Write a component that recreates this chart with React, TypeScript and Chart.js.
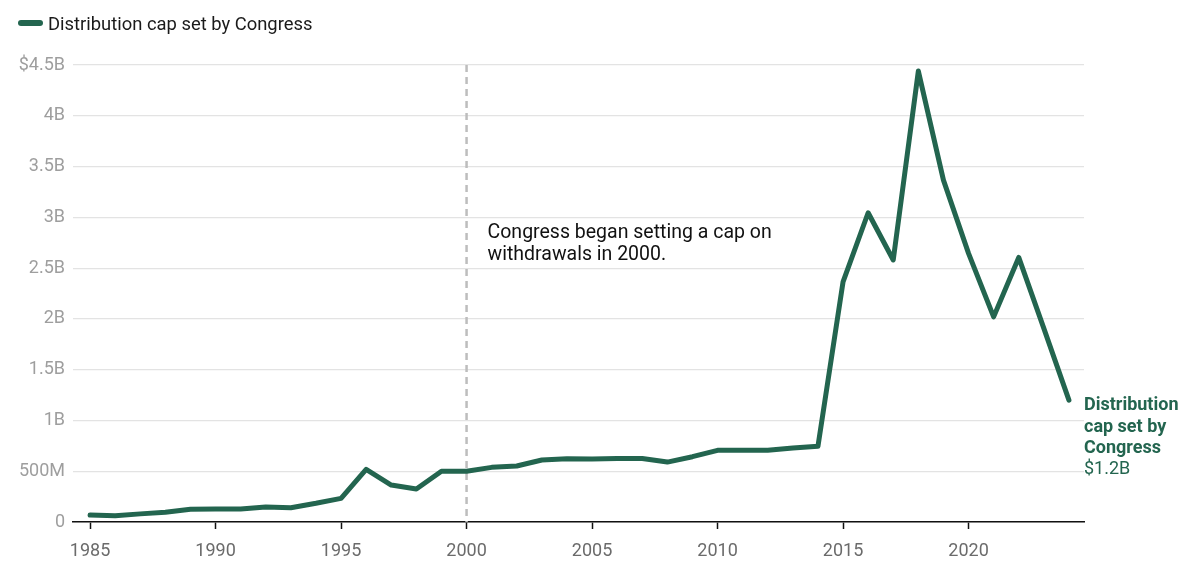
import React, { useEffect, useRef } from "react";
import { Chart, registerables } from "chart.js";

Chart.register(...registerables);

const years: number[] = [
  1985, 1986, 1987, 1988, 1989, 1990, 1991, 1992, 1993, 1994, 1995, 1996, 1997,
  1998, 1999, 2000, 2001, 2002, 2003, 2004, 2005, 2006, 2007, 2008, 2009, 2010,
  2011, 2012, 2013, 2014, 2015, 2016, 2017, 2018, 2019, 2020, 2021, 2022, 2023,
  2024,
];

// Distribution cap, in billions of dollars
const capValues: number[] = [
  0.069, 0.062, 0.08, 0.095, 0.125, 0.128, 0.128, 0.148, 0.141, 0.184, 0.233,
  0.519, 0.364, 0.325, 0.5, 0.5, 0.538, 0.551, 0.61, 0.623, 0.62, 0.625, 0.625,
  0.59, 0.643, 0.706, 0.706, 0.706, 0.728, 0.745, 2.365, 3.045, 2.58, 4.44,
  3.366, 2.645, 2.02, 2.605, 1.906, 1.2,
];

const xTickValues: number[] = [1985, 1990, 1995, 2000, 2005, 2010, 2015, 2020];
const yTickValues: number[] = [0, 0.5, 1, 1.5, 2, 2.5, 3, 3.5, 4, 4.5];
const yTickLabels: string[] = [
  "0",
  "500M",
  "1B",
  "1.5B",
  "2B",
  "2.5B",
  "3B",
  "3.5B",
  "4B",
  "$4.5B",
];

const seriesLabel = "Distribution cap set by Congress";
const endLabelLines: string[] = ["Distribution", "cap set by", "Congress"];
const endValueLabel = "$1.2B";
const annotationLines: string[] = [
  "Congress began setting a cap on",
  "withdrawals in 2000.",
];
const annotationYear = 2000;

const GREEN = "#23654f";
const FONT = "Roboto";

export default function App() {
  const canvasRef = useRef<HTMLCanvasElement | null>(null);

  useEffect(() => {
    const canvas = canvasRef.current;
    if (!canvas) return;

    const overlay = {
      id: "overlay",
      beforeDatasetsDraw(chart: any) {
        const ctx = chart.ctx;
        const area = chart.chartArea;
        const xs = chart.scales.x;
        const x = xs.getPixelForValue(annotationYear);
        ctx.save();
        ctx.strokeStyle = "#bdbdbd";
        ctx.lineWidth = 2.5;
        ctx.setLineDash([7, 5]);
        ctx.beginPath();
        ctx.moveTo(x, area.top);
        ctx.lineTo(x, area.bottom);
        ctx.stroke();
        ctx.restore();
      },
      afterDraw(chart: any) {
        const ctx = chart.ctx;
        const area = chart.chartArea;
        const xs = chart.scales.x;
        const ys = chart.scales.y;
        ctx.save();

        // legend
        ctx.strokeStyle = GREEN;
        ctx.lineWidth = 6;
        ctx.lineCap = "round";
        ctx.beginPath();
        ctx.moveTo(21, 23);
        ctx.lineTo(40, 23);
        ctx.stroke();
        ctx.fillStyle = "#1a1a1a";
        ctx.font = `18.4px ${FONT}`;
        ctx.textAlign = "left";
        ctx.textBaseline = "alphabetic";
        ctx.fillText(seriesLabel, 48, 30);

        // annotation
        const ax = xs.getPixelForValue(annotationYear) + 21;
        ctx.font = `19.5px ${FONT}`;
        ctx.fillStyle = "#111";
        annotationLines.forEach((line, i) => {
          ctx.fillText(line, ax, 238 + i * 22);
        });

        // end label
        const lastVal = capValues[capValues.length - 1];
        const ey = ys.getPixelForValue(lastVal) + 10;
        const ex = area.right;
        ctx.fillStyle = GREEN;
        ctx.font = `bold 18px ${FONT}`;
        endLabelLines.forEach((line, i) => {
          ctx.fillText(line, ex, ey + i * 21.5);
        });
        ctx.font = `18px ${FONT}`;
        ctx.fillText(endValueLabel, ex, ey + endLabelLines.length * 21.5 - 1);
        ctx.restore();
      },
    };

    const chart = new Chart(canvas, {
      type: "line",
      data: {
        datasets: [
          {
            label: seriesLabel,
            data: years.map((yr, i) => ({ x: yr, y: capValues[i] })),
            borderColor: GREEN,
            backgroundColor: GREEN,
            borderWidth: 5,
            pointRadius: 0,
            borderJoinStyle: "round",
            borderCapStyle: "round",
            tension: 0,
          },
        ],
      },
      options: {
        animation: false,
        responsive: true,
        maintainAspectRatio: false,
        layout: { padding: { top: 65, right: 116, left: 0, bottom: 0 } },
        plugins: {
          legend: { display: false },
          tooltip: { enabled: false },
        },
        scales: {
          x: {
            type: "linear",
            min: 1984.32,
            max: 2024.6,
            afterBuildTicks: (scale: any) => {
              scale.ticks = xTickValues.map((v) => ({ value: v }));
            },
            afterFit: (scale: any) => {
              scale.height = 63;
            },
            grid: {
              drawOnChartArea: false,
              drawTicks: true,
              tickLength: 7,
              tickWidth: 1.5,
              tickColor: "#111",
            },
            border: { color: "#111", width: 1.5 },
            ticks: {
              padding: 12,
              color: "#6b6b6b",
              font: { family: FONT, size: 18 },
              maxRotation: 0,
              autoSkip: false,
              callback: (v: any) => String(v),
            },
          },
          y: {
            type: "linear",
            min: 0,
            max: 4.5,
            afterBuildTicks: (scale: any) => {
              scale.ticks = yTickValues.map((v) => ({ value: v }));
            },
            afterFit: (scale: any) => {
              scale.width = 73;
            },
            grid: {
              color: "#e3e3e3",
              lineWidth: 1.2,
              drawTicks: false,
            },
            border: { display: false },
            ticks: {
              padding: 8,
              color: "#9e9e9e",
              font: { family: FONT, size: 18 },
              callback: (v: any) => {
                const idx = yTickValues.indexOf(Number(v));
                return idx >= 0 ? yTickLabels[idx] : "";
              },
            },
          },
        },
      },
      plugins: [overlay],
    });

    return () => {
      chart.destroy();
    };
  }, []);

  return (
    <div
      style={{
        position: "fixed",
        left: 0,
        top: 0,
        width: 1200,
        height: 585,
        background: "#fff",
      }}
    >
      <canvas ref={canvasRef} />
    </div>
  );
}
